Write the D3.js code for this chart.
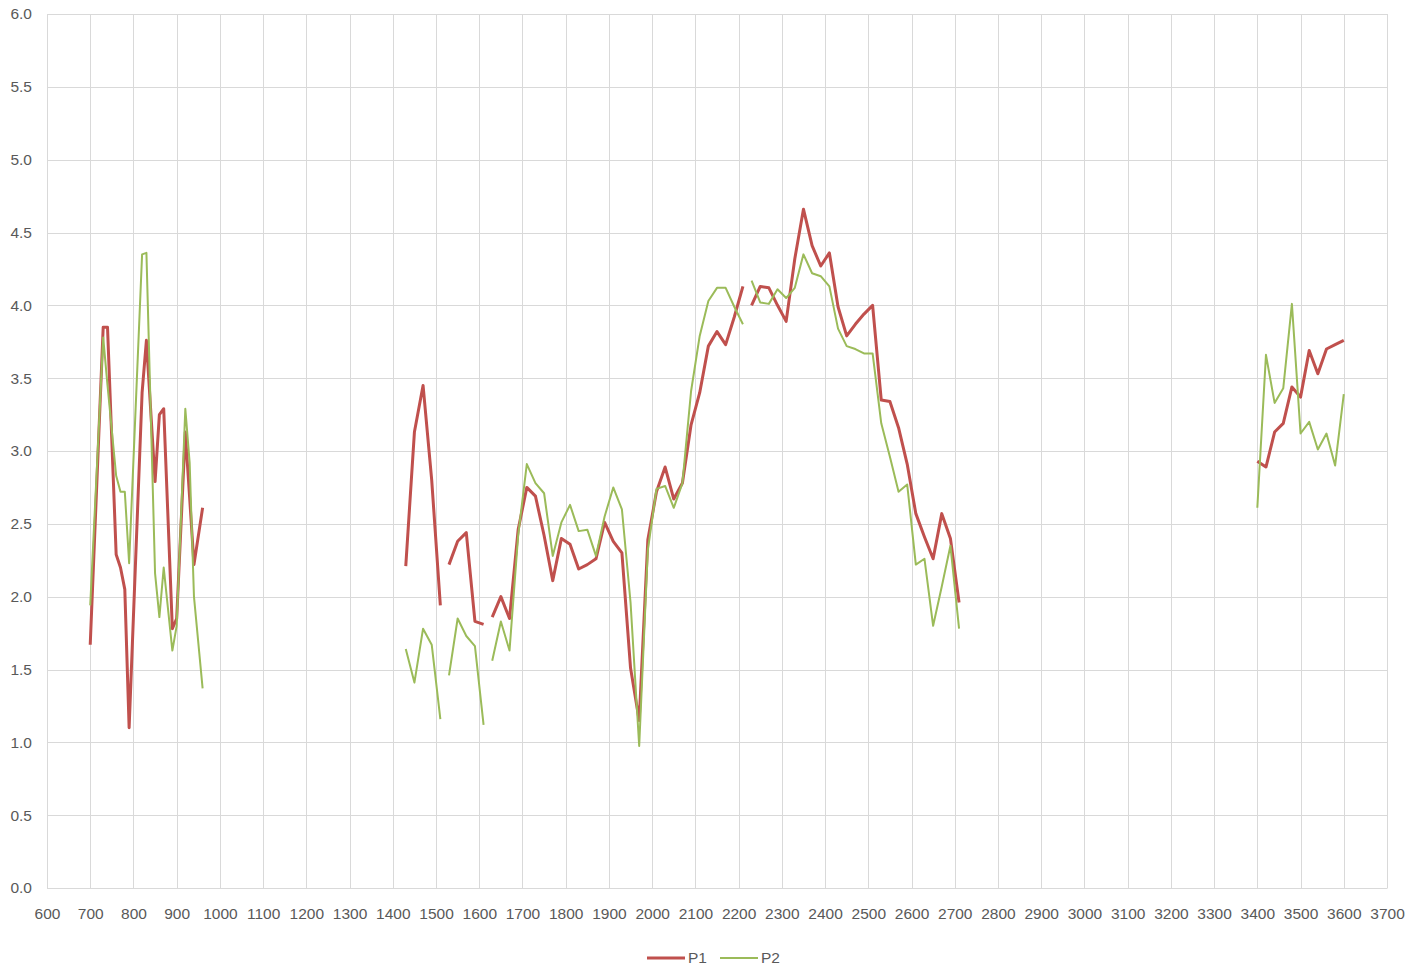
<!DOCTYPE html>
<html>
<head>
<meta charset="utf-8">
<script src="https://cdn.jsdelivr.net/npm/d3@7"></script>
<style>
  body { margin: 0; background: #ffffff; }
  svg { display: block; }
  text { font-family: "Liberation Sans", Arial, sans-serif; fill: #595959; }
</style>
</head>
<body>
<svg id="chart" width="1422" height="971"></svg>
<script>
// ---------- DATA ----------
// Left cluster
const xLeft  = [700, 730, 740, 760, 770, 780, 790, 820, 830, 850, 860, 870, 890, 900, 920, 930, 940, 960];
const p1Left = [1.67, 3.85, 3.85, 2.29, 2.20, 2.05, 1.10, 3.40, 3.76, 2.79, 3.25, 3.29, 1.78, 1.85, 3.13, 2.68, 2.22, 2.61];
const p2Left = [1.94, 3.78, 3.45, 2.83, 2.72, 2.72, 2.23, 4.35, 4.36, 2.16, 1.86, 2.20, 1.63, 1.80, 3.29, 2.92, 2.00, 1.37];

// Middle cluster (null = empty cell -> gap in the line)
const xMid  = [1430, 1450, 1470, 1490, 1510, 1520, 1530, 1550, 1570, 1590, 1610, 1620, 1630, 1650, 1670, 1690,
               1710, 1730, 1750, 1770, 1790, 1810, 1830, 1850, 1870, 1890, 1910, 1930, 1950, 1970, 1990,
               2010, 2030, 2050, 2070, 2090, 2110, 2130, 2150, 2170, 2190, 2210, 2220, 2230, 2250, 2270,
               2290, 2310, 2330, 2350, 2370, 2390, 2410, 2430, 2450, 2470, 2490, 2510, 2530, 2550, 2570,
               2590, 2610, 2630, 2650, 2670, 2690, 2710];
const p1Mid = [2.21, 3.13, 3.45, 2.80, 1.94, null, 2.22, 2.38, 2.44, 1.83, 1.81, null, 1.86, 2.00, 1.85, 2.46,
               2.75, 2.69, 2.42, 2.11, 2.40, 2.36, 2.19, 2.22, 2.26, 2.51, 2.38, 2.30, 1.51, 1.15, 2.39,
               2.72, 2.89, 2.67, 2.78, 3.18, 3.40, 3.72, 3.82, 3.73, 3.92, 4.13, null, 4.00, 4.13, 4.12,
               4.00, 3.89, 4.32, 4.66, 4.41, 4.27, 4.36, 3.99, 3.79, 3.87, 3.94, 4.00, 3.35, 3.34, 3.16,
               2.91, 2.57, 2.41, 2.26, 2.57, 2.40, 1.96];
const p2Mid = [1.64, 1.41, 1.78, 1.67, 1.16, null, 1.46, 1.85, 1.73, 1.66, 1.12, null, 1.56, 1.83, 1.63, 2.42,
               2.91, 2.78, 2.71, 2.28, 2.51, 2.63, 2.45, 2.46, 2.28, 2.55, 2.75, 2.60, 1.96, 0.975, 2.32,
               2.74, 2.76, 2.61, 2.78, 3.41, 3.79, 4.03, 4.12, 4.12, 3.99, 3.87, null, 4.17, 4.02, 4.01,
               4.11, 4.05, 4.12, 4.35, 4.22, 4.20, 4.13, 3.84, 3.72, 3.70, 3.67, 3.67, 3.19, 2.96, 2.72,
               2.77, 2.22, 2.26, 1.80, 2.07, 2.35, 1.78];

// Right cluster
const xRight  = [3400, 3420, 3440, 3460, 3480, 3500, 3520, 3540, 3560, 3580, 3600];
const p1Right = [2.93, 2.89, 3.13, 3.19, 3.44, 3.37, 3.69, 3.53, 3.70, 3.73, 3.76];
const p2Right = [2.61, 3.66, 3.33, 3.43, 4.01, 3.12, 3.20, 3.01, 3.12, 2.90, 3.39];

const seriesNames  = ["P1", "P2"];
const seriesColors = ["#C0504D", "#9BBB59"];
const xTickValues = d3.range(600, 3701, 100);
const yTickValues = [0.0, 0.5, 1.0, 1.5, 2.0, 2.5, 3.0, 3.5, 4.0, 4.5, 5.0, 5.5, 6.0];

// ---------- BUILD ----------
function buildSeries(parts) {
  const out = [];
  parts.forEach(([xs, ys], i) => {
    if (i > 0) out.push({ x: xs[0] - 1, y: null }); // break between clusters
    xs.forEach((xv, j) => out.push({ x: xv, y: ys[j] }));
  });
  return out;
}
const series = [
  buildSeries([[xLeft, p1Left], [xMid, p1Mid], [xRight, p1Right]]),
  buildSeries([[xLeft, p2Left], [xMid, p2Mid], [xRight, p2Right]])
];

const svg = d3.select("#chart");
const L = 47, R = 1387, T = 14, B = 888;
const x = d3.scaleLinear().domain([600, 3700]).range([L, R]);
const y = d3.scaleLinear().domain([0, 6]).range([B, T]);

// grid
svg.append("g").selectAll("line.v").data(xTickValues).join("line")
  .attr("x1", d => Math.round(x(d)) + 0.5).attr("x2", d => Math.round(x(d)) + 0.5)
  .attr("y1", T).attr("y2", B)
  .attr("stroke", "#d9d9d9").attr("stroke-width", 1);
svg.append("g").selectAll("line.h").data(yTickValues).join("line")
  .attr("x1", L).attr("x2", R)
  .attr("y1", d => Math.round(y(d)) + 0.5).attr("y2", d => Math.round(y(d)) + 0.5)
  .attr("stroke", "#d9d9d9").attr("stroke-width", 1);

// axes labels via d3 axes
const xAxis = svg.append("g").attr("transform", `translate(0,${B})`)
  .call(d3.axisBottom(x).tickValues(xTickValues).tickSize(0).tickPadding(20).tickFormat(d3.format("d")));
xAxis.select(".domain").attr("stroke", "#d9d9d9");
xAxis.selectAll("text").attr("font-size", "15.5px").attr("fill", "#595959")
  .attr("font-family", '"Liberation Sans", Arial, sans-serif');

const yAxis = svg.append("g").attr("transform", `translate(${L},0)`)
  .call(d3.axisLeft(y).tickValues(yTickValues).tickSize(0).tickPadding(15).tickFormat(d3.format(".1f")));
yAxis.select(".domain").remove();
yAxis.selectAll("text").attr("font-size", "15.5px").attr("fill", "#595959")
  .attr("font-family", '"Liberation Sans", Arial, sans-serif');

// lines
const line = d3.line().defined(d => d.y != null).x(d => x(d.x)).y(d => y(d.y));
const widths = [3, 2];
series.forEach((s, i) => {
  svg.append("path").datum(s)
    .attr("fill", "none")
    .attr("stroke", seriesColors[i])
    .attr("stroke-width", widths[i])
    .attr("stroke-linejoin", "round")
    .attr("stroke-linecap", "butt")
    .attr("d", line);
});

// legend
const legend = svg.append("g").attr("transform", "translate(647,958)");
const legX = [0, 73];
seriesNames.forEach((n, i) => {
  const g = legend.append("g").attr("transform", `translate(${legX[i]},0)`);
  g.append("line").attr("x1", 0).attr("x2", 38).attr("y1", 0).attr("y2", 0)
    .attr("stroke", seriesColors[i]).attr("stroke-width", widths[i]);
  g.append("text").attr("x", 41).attr("y", 0).attr("dy", "0.35em")
    .attr("font-size", "15.5px").text(n);
});
</script>
</body>
</html>
